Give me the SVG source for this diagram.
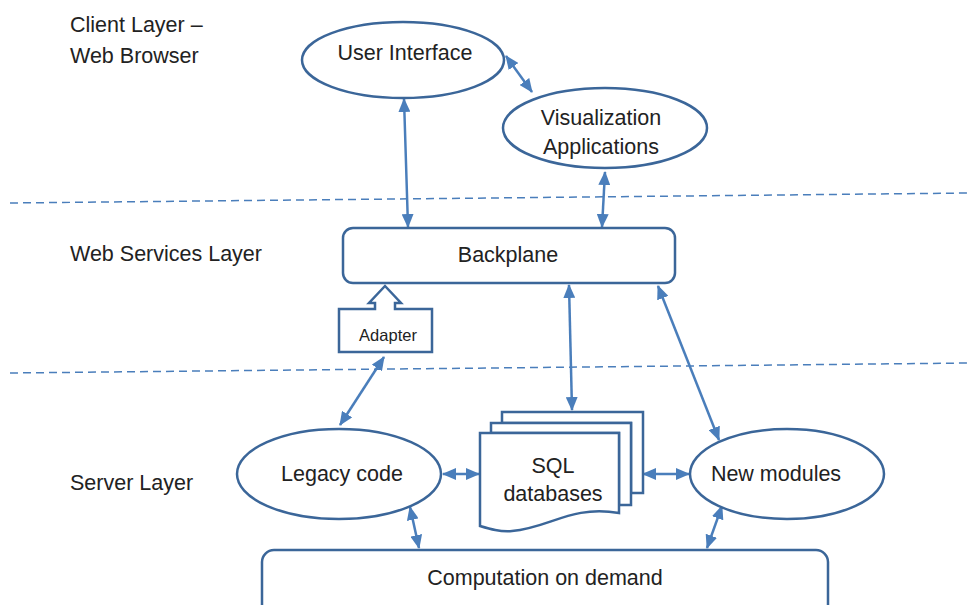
<svg xmlns="http://www.w3.org/2000/svg" width="970" height="605" viewBox="0 0 970 605">
<style>
.n{fill:#fff;stroke:#3b6699;stroke-width:2.5}
.t{font-family:"Liberation Sans",Arial,sans-serif;font-size:21.5px;fill:#222}
.c{stroke:#4a7ebb;stroke-width:2.5;fill:none;marker-start:url(#ah);marker-end:url(#ah)}
.d{stroke:#4a7ebb;stroke-width:1.5;stroke-dasharray:8 5;fill:none}
</style>
<defs>
<marker id="ah" viewBox="0 0 14 12" refX="13" refY="6" markerWidth="14" markerHeight="12" markerUnits="userSpaceOnUse" orient="auto-start-reverse">
<path d="M0,0 L14,6 L0,12 Z" fill="#4a7ebb"/>
</marker>
</defs>
<rect width="970" height="605" fill="#fff"/>
<g id="layers">
<line class="d" x1="10" y1="203" x2="970" y2="193"/>
<line class="d" x1="10" y1="373" x2="970" y2="363"/>
<text class="t" x="70" y="32">Client Layer –</text>
<text class="t" x="70" y="63">Web Browser</text>
<text class="t" x="70" y="261">Web Services Layer</text>
<text class="t" x="70" y="490">Server Layer</text>
</g>
<g id="connectors">
<line class="c" x1="404" y1="99" x2="408" y2="227"/>
<line class="c" x1="506" y1="56" x2="532" y2="92"/>
<line class="c" x1="605" y1="172" x2="602" y2="227"/>
<line class="c" x1="384" y1="357" x2="340" y2="425"/>
<line class="c" x1="569" y1="285" x2="572" y2="410"/>
<line class="c" x1="658" y1="286" x2="719" y2="440"/>
<line class="c" x1="443" y1="474" x2="479" y2="474"/>
<line class="c" x1="643" y1="474" x2="689" y2="474"/>
<line class="c" x1="410" y1="507" x2="419" y2="548"/>
<line class="c" x1="722" y1="506" x2="707" y2="548"/>
</g>
<g id="user-interface">
<ellipse class="n" cx="403" cy="60" rx="101" ry="38"/>
<text class="t" x="405" y="60" text-anchor="middle">User Interface</text>
</g>
<g id="visualization">
<ellipse class="n" cx="605" cy="128" rx="102" ry="40"/>
<text class="t" x="601" y="125" text-anchor="middle">Visualization</text>
<text class="t" x="601" y="154" text-anchor="middle">Applications</text>
</g>
<g id="backplane">
<rect class="n" x="343" y="228" width="332" height="55" rx="10"/>
<text class="t" x="508" y="262" text-anchor="middle">Backplane</text>
</g>
<g id="adapter">
<path class="n" d="M339,309 L375,309 L375,303 L369,303 L385,286 L401,303 L395,303 L395,309 L432,309 L432,352 L339,352 Z"/>
<text class="t" x="388" y="341" text-anchor="middle" style="font-size:16.5px">Adapter</text>
</g>
<g id="sql-databases">
<path class="n" d="M502,412 H643 V493 H631 V423 H502 Z"/>
<path class="n" d="M491,423 H631 V505 H619 V433 H491 Z"/>
<path class="n" d="M480,433 H619 V513 C570,505 550,528 512,531 C500,532 490,529 480,526 Z"/>
<text class="t" x="553" y="473" text-anchor="middle">SQL</text>
<text class="t" x="553" y="501" text-anchor="middle">databases</text>
</g>
<g id="legacy-code">
<ellipse class="n" cx="339" cy="474" rx="102" ry="45"/>
<text class="t" x="342" y="481" text-anchor="middle">Legacy code</text>
</g>
<g id="new-modules">
<ellipse class="n" cx="787" cy="474" rx="97" ry="45"/>
<text class="t" x="776" y="481" text-anchor="middle">New modules</text>
</g>
<g id="computation">
<rect class="n" x="262" y="550" width="566" height="70" rx="12"/>
<text class="t" x="545" y="585" text-anchor="middle">Computation on demand</text>
</g>
</svg>
